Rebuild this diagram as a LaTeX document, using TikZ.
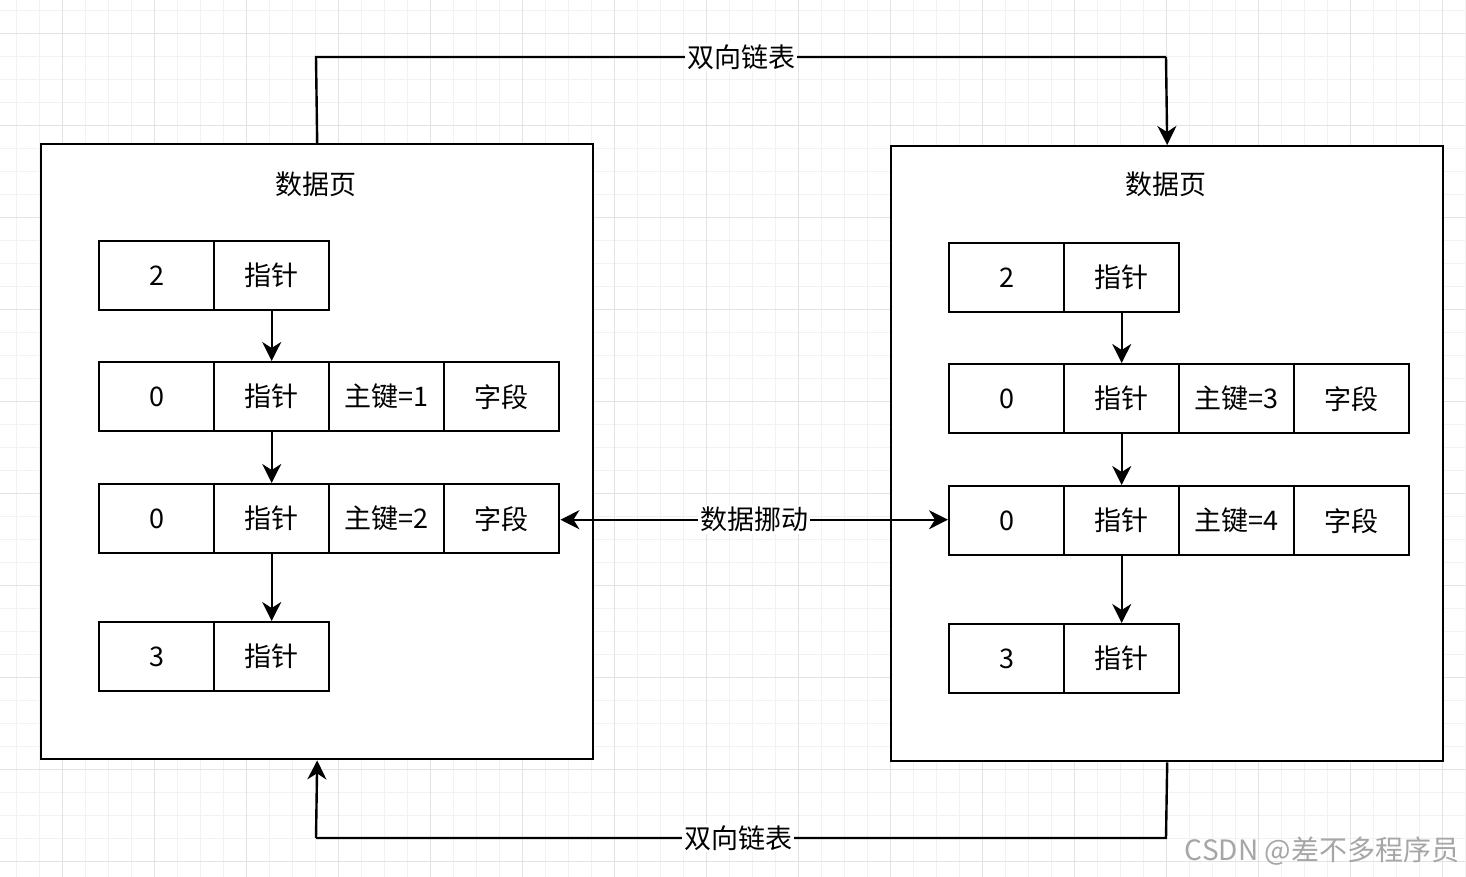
\documentclass[tikz,border=0pt]{standalone}
\usepackage{fontspec}
\setmainfont{Noto Sans CJK SC}
\usetikzlibrary{arrows.meta}
\definecolor{minorc}{HTML}{F2F2F2}
\definecolor{majorc}{HTML}{E3E3E3}
\tikzset{
  minorgrid/.style={draw=minorc, line width=1.3pt},
  majorgrid/.style={draw=majorc, line width=1.5pt},
  page/.style={draw=black, fill=white, line width=2.4pt, minimum width=552pt, minimum height=615pt, anchor=north west, inner sep=0pt},
  cell/.style={draw=black, fill=white, line width=2.4pt, minimum width=115pt, minimum height=69pt, anchor=north west, inner sep=0pt, font=\fontsize{27}{31}\selectfont},
  ttl/.style={font=\fontsize{27}{31}\selectfont, inner sep=0pt},
  lbl/.style={fill=white, inner sep=2pt, font=\fontsize{27}{31}\selectfont},
  conn/.style={draw=black, line width=2.4pt, -{Stealth[length=19pt, width=19pt, inset=6pt]}},
  link/.style={draw=black, line width=2.4pt, line join=miter},
}
\begin{document}
\begin{tikzpicture}[x=1pt, y=-1pt]
\useasboundingbox (0,0) rectangle (1466,877);
\fill[white] (0,0) rectangle (1466,877);
% grid
\foreach \i in {0,...,63} \draw[minorgrid] ({16.3+23*\i},0) -- ({16.3+23*\i},877);
\foreach \i in {0,...,38} \draw[minorgrid] (0,{10.7+23*\i}) -- (1466,{10.7+23*\i});
\foreach \i in {0,...,15} \draw[majorgrid] ({62.3+92*\i},0) -- ({62.3+92*\i},877);
\foreach \i in {0,...,9} \draw[majorgrid] (0,{33.7+92*\i}) -- (1466,{33.7+92*\i});

% pages
\node[page] (Lpage) at (40,143) {};
\node[page] (Rpage) at (890,145) {};
\node[ttl] (Ltitle) at (316,184) {数据页};
\node[ttl] (Rtitle) at (1166,184) {数据页};

% left records
\node[cell] (L1a) at (98,240) {2};
\node[cell] (L1b) at (213,240) {指针};
\node[cell] (L2a) at (98,361) {0};
\node[cell] (L2b) at (213,361) {指针};
\node[cell] (L2c) at (328,361) {主键=1};
\node[cell] (L2d) at (443,361) {字段};
\node[cell] (L3a) at (98,483) {0};
\node[cell] (L3b) at (213,483) {指针};
\node[cell] (L3c) at (328,483) {主键=2};
\node[cell] (L3d) at (443,483) {字段};
\node[cell] (L4a) at (98,621) {3};
\node[cell] (L4b) at (213,621) {指针};

% right records
\node[cell] (R1a) at (948,242) {2};
\node[cell] (R1b) at (1063,242) {指针};
\node[cell] (R2a) at (948,363) {0};
\node[cell] (R2b) at (1063,363) {指针};
\node[cell] (R2c) at (1178,363) {主键=3};
\node[cell] (R2d) at (1293,363) {字段};
\node[cell] (R3a) at (948,485) {0};
\node[cell] (R3b) at (1063,485) {指针};
\node[cell] (R3c) at (1178,485) {主键=4};
\node[cell] (R3d) at (1293,485) {字段};
\node[cell] (R4a) at (948,623) {3};
\node[cell] (R4b) at (1063,623) {指针};

% record chains
\draw[conn] (L1b.south) -- (L2b.north);
\draw[conn] (L2b.south) -- (L3b.north);
\draw[conn] (L3b.south) -- (L4b.north);
\draw[conn] (R1b.south) -- (R2b.north);
\draw[conn] (R2b.south) -- (R3b.north);
\draw[conn] (R3b.south) -- (R4b.north);

% doubly linked list
\coordinate (t1) at (316,57);
\coordinate (t2) at (1166,57);
\draw[link] (Lpage.north) -- (t1) -- node[lbl] {双向链表} (t2);
\draw[conn] (t2) -- (Rpage.north);
\coordinate (b1) at (1166,838);
\coordinate (b2) at (316,838);
\draw[link] (Rpage.south) -- (b1) -- node[lbl, xshift=-3pt] {双向链表} (b2);
\draw[conn] (b2) -- (Lpage.south);

% data move
\draw[conn, {Stealth[length=19pt, width=19pt, inset=6pt]}-{Stealth[length=19pt, width=19pt, inset=6pt]}] ([yshift=-1pt]L3d.east) -- node[lbl] {数据挪动} ([yshift=-1pt]L3d.east -| R3a.west);

% watermark
\node[text=black!35, font=\fontsize{28}{32}\selectfont, inner sep=0pt] (wm) at (1322,851) {CSDN @差不多程序员};
\end{tikzpicture}
\end{document}
